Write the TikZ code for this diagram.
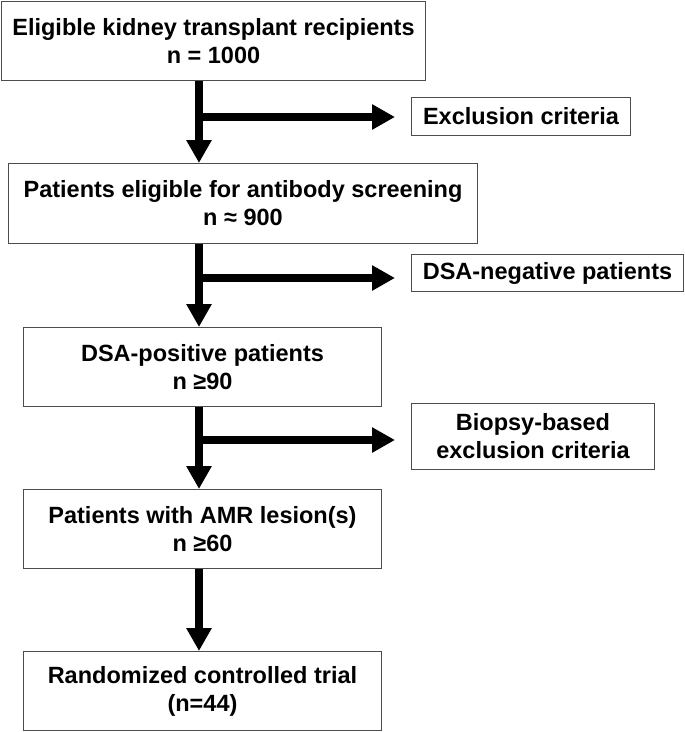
\documentclass[tikz,border=0pt]{standalone}
\usepackage{fontspec}
\setmainfont{Liberation Sans}
\usetikzlibrary{arrows.meta}

\begin{document}
\begin{tikzpicture}[x=1pt, y=-1pt, box/.style={
        rectangle,
        draw=black!70,
        line width=1pt,
        text=black,
        align=center,
        inner sep=0pt,
        font=\fontsize{23.5}{28}\selectfont\bfseries
    }, arrow/.style={
        line width=8pt, -{Triangle[length=23pt, width=24pt]}
    }]
    \useasboundingbox (0,0) rectangle (685,732);
    \node (recip) [box, minimum width=424pt, minimum height=79pt] at (213.5,41) {Eligible kidney transplant recipients\\n = 1000};
    \node (screen) [box, minimum width=469pt, minimum height=80pt] at (243,203.5) {Patients eligible for antibody screening\\n ≈ 900};
    \node (dsapos) [box, minimum width=358pt, minimum height=79pt] at (202.5,367) {DSA-positive patients\\n ≥90};
    \node (amr) [box, minimum width=358pt, minimum height=79pt] at (202.5,529) {Patients with AMR lesion(s)\\n ≥60};
    \node (rct) [box, minimum width=358pt, minimum height=79pt] at (202.5,691) {Randomized controlled trial\\(n=44)};
    \node (excl) [box, minimum width=219pt, minimum height=38pt] at (521,116.5) {Exclusion criteria};
    \node (dsaneg) [box, minimum width=272pt, minimum height=37pt] at (547.5,273) {DSA-negative patients};
    \node (biopsy) [box, minimum width=243pt, minimum height=66pt] at (533,436.5) {Biopsy-based\\exclusion criteria};
    \coordinate (fork1) at (199,117);
    \coordinate (fork2) at (199,278);
    \coordinate (fork3) at (199,440);
    \draw [arrow] (recip.south -| fork1) -- (screen.north -| fork1);
    \draw [arrow] (screen.south -| fork1) -- (dsapos.north -| fork1);
    \draw [arrow] (dsapos.south -| fork1) -- (amr.north -| fork1);
    \draw [arrow] (amr.south -| fork1) -- (rct.north -| fork1);
    \draw [arrow, shorten >=16pt] (fork1) -- (excl.west |- fork1);
    \draw [arrow, shorten >=16pt] (fork2) -- (dsaneg.west |- fork2);
    \draw [arrow, shorten >=16pt] (fork3) -- (biopsy.west |- fork3);

\end{tikzpicture}
\end{document}
